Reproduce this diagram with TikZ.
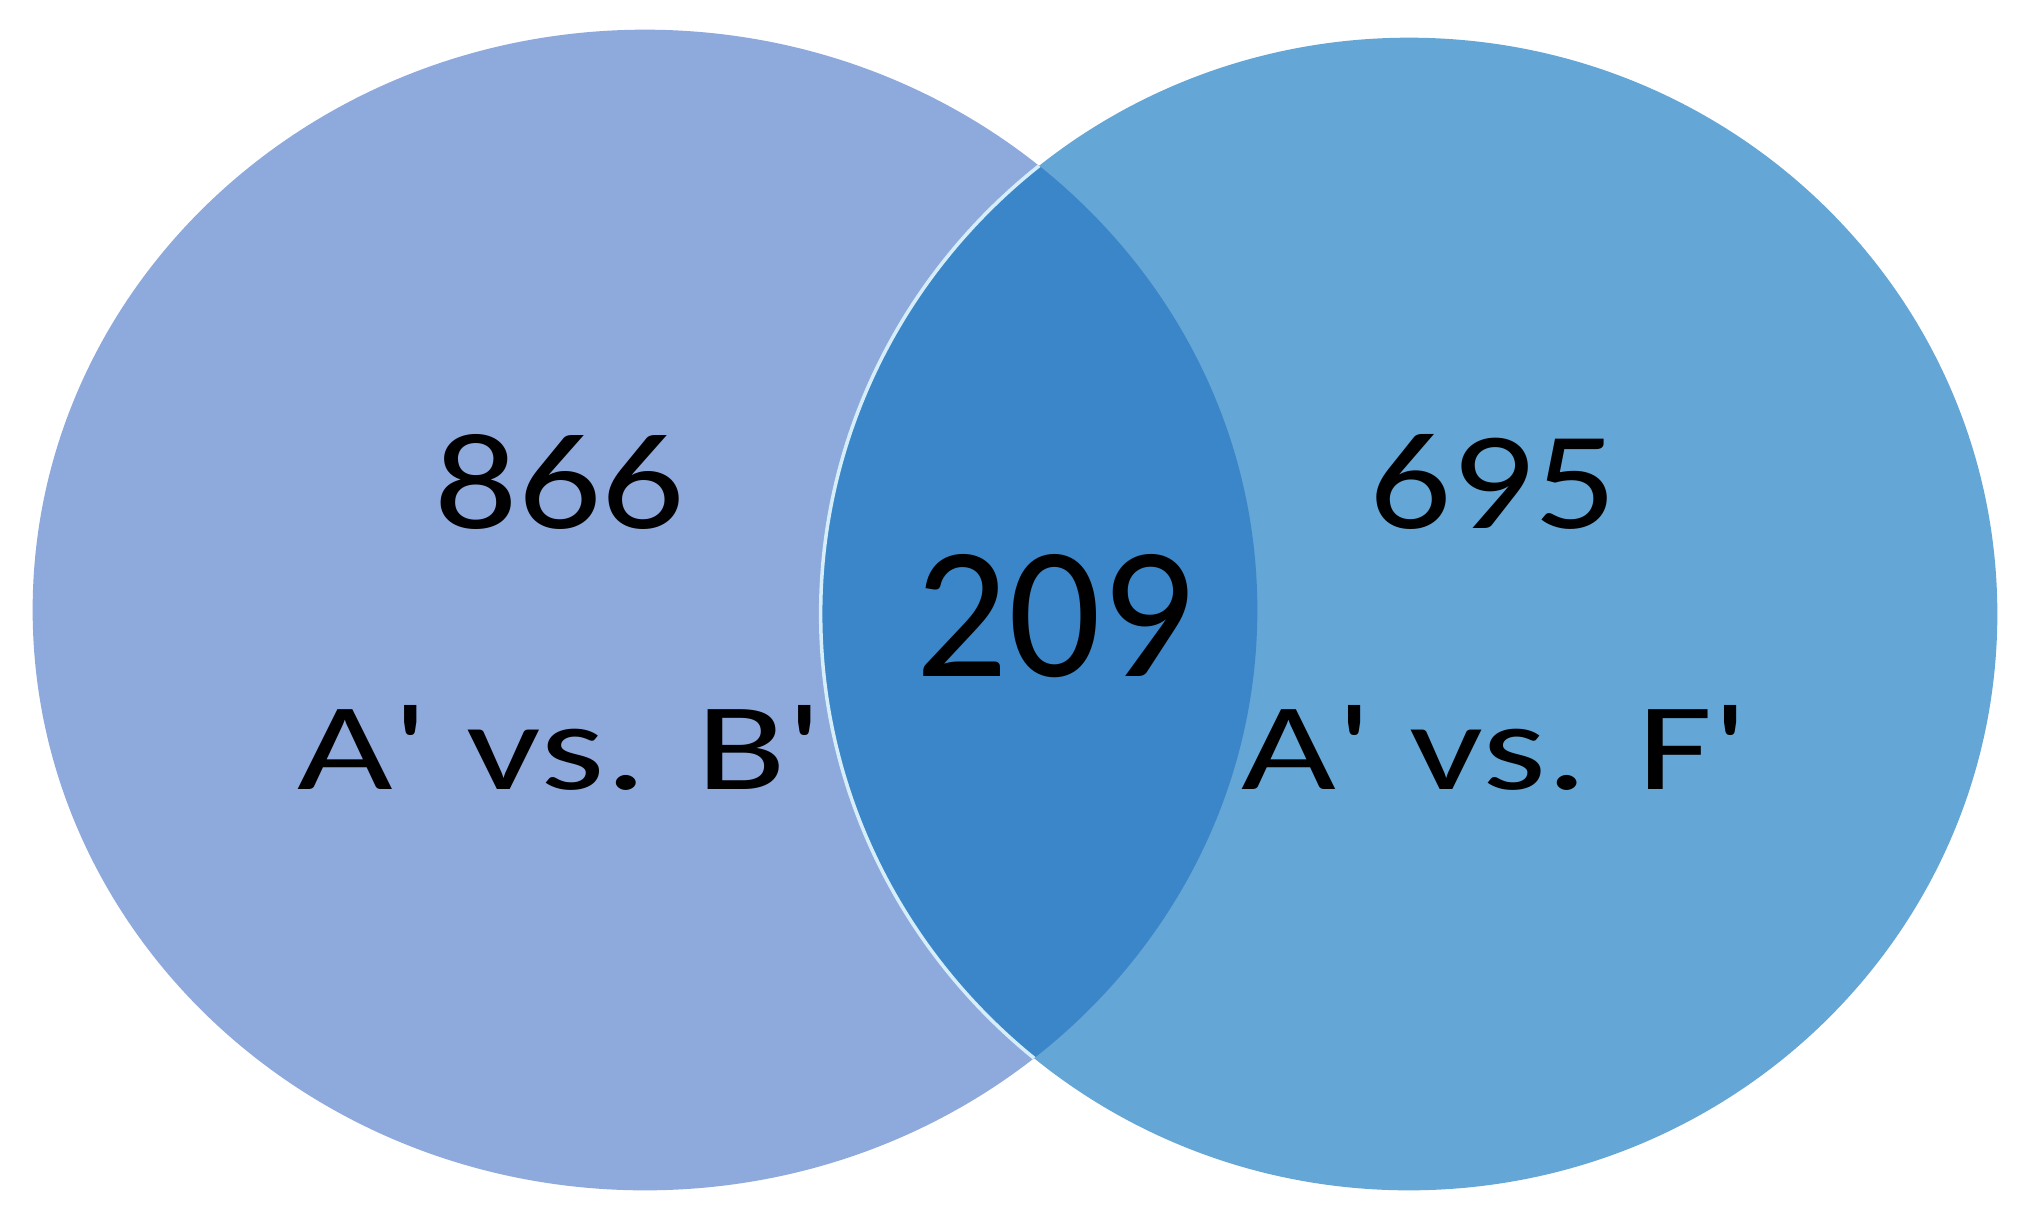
\documentclass[tikz,border=0pt]{standalone}
\usepackage{fontspec}
\usepackage{graphicx}
\newfontfamily\vennfont{Carlito}
\definecolor{leftc}{RGB}{142,169,219}
\definecolor{rightc}{RGB}{100,166,214}
\definecolor{lensc}{RGB}{58,134,200}
\definecolor{edgec}{RGB}{214,238,250}
\begin{document}
\begin{tikzpicture}[x=0.01cm,y=-0.01cm,
  lbl/.style={font=\vennfont\fontsize{40}{48}\selectfont, inner sep=0pt, text=black}]
\useasboundingbox (0,0) rectangle (2023,1220);
\fill[white] (0,0) rectangle (2023,1220);
\fill[leftc] (645,610) ellipse [x radius=6.12cm, y radius=5.80cm];
\fill[rightc] (1409,614) ellipse [x radius=5.88cm, y radius=5.76cm];
\begin{scope}
  \clip (645,610) ellipse [x radius=6.12cm, y radius=5.80cm];
  \fill[lensc] (1409,614) ellipse [x radius=5.88cm, y radius=5.76cm];
  \draw[edgec, line width=1pt] (1409,614) ellipse [x radius=5.88cm, y radius=5.76cm];
\end{scope}
\node[lbl] (nA) at (560,482) {\resizebox{2.50cm}{0.94cm}{866}};
\node[lbl] (sA) at (560,748) {\resizebox{5.25cm}{0.84cm}{A' vs. B'}};
\node[lbl] (nAB) at (1055,616) {\resizebox{2.78cm}{1.22cm}{209}};
\node[lbl] (nB) at (1493,482) {\resizebox{2.47cm}{0.94cm}{695}};
\node[lbl] (sB) at (1495,748) {\resizebox{5.07cm}{0.84cm}{A' vs. F'}};
\end{tikzpicture}
\end{document}
